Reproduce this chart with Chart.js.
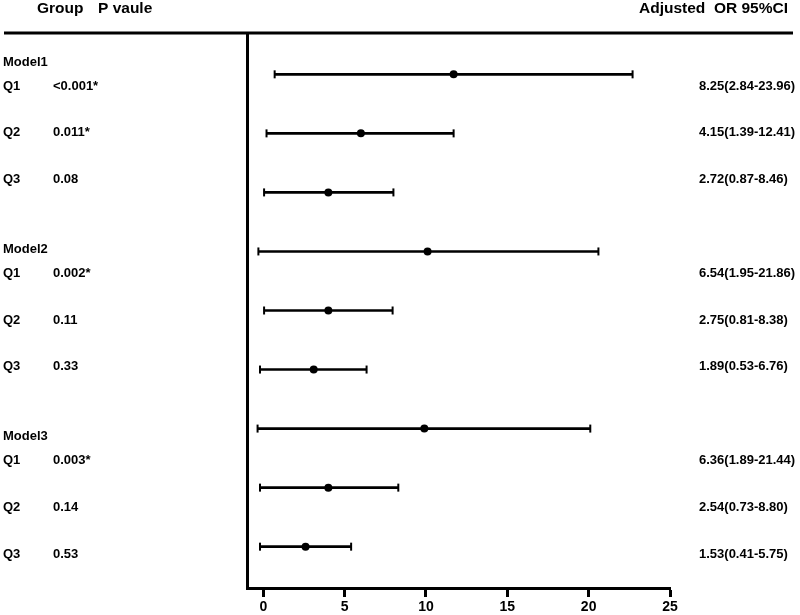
<!DOCTYPE html>
<html>
<head>
<meta charset="utf-8">
<script src="https://cdn.jsdelivr.net/npm/chart.js@4.4.0/dist/chart.umd.min.js"></script>
<style>
  html, body { margin: 0; padding: 0; background: #fff; }
  canvas { display: block; }
</style>
</head>
<body>
<canvas id="myChart" width="800" height="615"></canvas>
<script>
// table text
var models = ['Model1', 'Model2', 'Model3'];
var groups = ['Q1', 'Q2', 'Q3', 'Q1', 'Q2', 'Q3', 'Q1', 'Q2', 'Q3'];
var pValues = ['<0.001*', '0.011*', '0.08', '0.002*', '0.11', '0.33', '0.003*', '0.14', '0.53'];
var orLabels = ['8.25(2.84-23.96)', '4.15(1.39-12.41)', '2.72(0.87-8.46)',
                '6.54(1.95-21.86)', '2.75(0.81-8.38)', '1.89(0.53-6.76)',
                '6.36(1.89-21.44)', '2.54(0.73-8.80)', '1.53(0.41-5.75)'];

// plotted values
var orPoint = [11.7, 6.0, 4.0, 10.1, 4.0, 3.1, 9.9, 4.0, 2.6];
var ciLow = [0.7, 0.2, 0.05, -0.3, 0.05, -0.2, -0.35, -0.2, -0.2];
var ciHigh = [22.7, 11.7, 8.0, 20.6, 7.95, 6.35, 20.1, 8.3, 5.4];
var xTicks = [0, 5, 10, 15, 20, 25];

var rows = groups.map(function (g, i) { return i; });
var fontFamily = '"Liberation Sans", Arial, Helvetica, sans-serif';

// draws the table columns and the top rule
var tablePlugin = {
    id: 'table',
    afterDraw: function (chart) {
        var ctx = chart.ctx;
        var area = chart.chartArea;
        ctx.save();
        ctx.strokeStyle = '#000';
        ctx.lineWidth = 3;
        ctx.beginPath();
        ctx.moveTo(4, area.top);
        ctx.lineTo(793, area.top);
        ctx.stroke();

        ctx.fillStyle = '#000';
        ctx.textBaseline = 'middle';
        ctx.font = 'bold 15.5px ' + fontFamily;
        ctx.textAlign = 'left';
        ctx.fillText('Group', 37, 9);
        ctx.fillText('P vaule', 98, 9);
        ctx.textAlign = 'right';
        ctx.fillText('Adjusted  OR 95%CI', 788, 9);

        ctx.font = 'bold 13px ' + fontFamily;
        ctx.textAlign = 'left';
        var top = area.top + 53;
        var step = 46.8;
        models.forEach(function (m, j) {
            ctx.fillText(m, 3, top + step * j * 4 - 24);
        });
        rows.forEach(function (i) {
            var k = Math.floor(i / 3) * 4 + i % 3;
            var y = top + step * k;
            ctx.fillText(groups[i], 3, y);
            ctx.fillText(pValues[i], 53, y);
            ctx.fillText(orLabels[i], 699, y);
        });
        ctx.restore();
    }
};

var ctx = document.getElementById('myChart').getContext('2d');
var chart = new Chart(ctx, {
    type: 'scatter',
    data: {
        datasets: [{
            // odds ratio points
            data: rows.map(function (i) { return {x: orPoint[i], y: i}; }),
            pointStyle: 'circle',
            radius: 4,
            backgroundColor: '#000',
            borderColor: '#000',
            borderWidth: 0
        }, {
            // whisker caps
            data: rows.map(function (i) { return {x: ciLow[i], y: i}; })
                .concat(rows.map(function (i) { return {x: ciHigh[i], y: i}; })),
            pointStyle: 'line',
            rotation: 90,
            radius: 4,
            borderWidth: 2,
            borderColor: '#000'
        }, {
            // confidence interval lines
            type: 'bar',
            indexAxis: 'y',
            data: rows.map(function (i) { return {x: [ciLow[i], ciHigh[i]], y: i}; }),
            backgroundColor: '#000',
            borderWidth: 0,
            barThickness: 2
        }]
    },
    options: {
        responsive: false,
        animation: false,
        devicePixelRatio: 1,
        layout: { padding: { left: 247, right: 130, top: 33, bottom: 0 } },
        plugins: {
            legend: { display: false },
            tooltip: { enabled: false }
        },
        scales: {
            x: {
                type: 'linear',
                min: -1,
                max: 25,
                offset: false,
                afterBuildTicks: function (s) { s.ticks = xTicks.map(function (v) { return {value: v}; }); },
                afterFit: function (s) { s.height = 27; },
                border: { display: true, color: '#000', width: 3 },
                grid: { display: true, offset: false, drawOnChartArea: false, drawTicks: true, tickLength: 9, tickWidth: 3, tickColor: '#000', color: '#000' },
                ticks: { color: '#000', font: { family: fontFamily, size: 14, weight: 'bold' }, padding: 2, maxRotation: 0 }
            },
            y: {
                type: 'linear',
                reverse: true,
                min: -0.7,
                max: 8.7,
                offset: false,
                afterFit: function (s) { s.width = 0; },
                border: { display: true, color: '#000', width: 3 },
                grid: { display: false, offset: false, drawTicks: false },
                ticks: { display: false }
            }
        }
    },
    plugins: [tablePlugin]
});
</script>
</body>
</html>
